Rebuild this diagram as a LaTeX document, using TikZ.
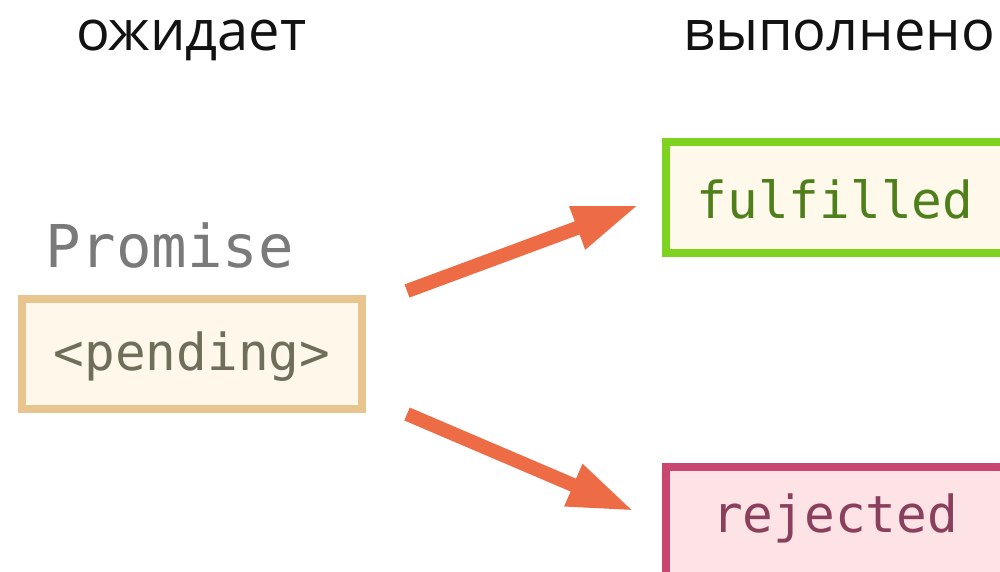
\documentclass[tikz,border=0pt]{standalone}
\usepackage{fontspec}
\setmainfont{Open Sans}
\setmonofont{DejaVu Sans Mono}
\usetikzlibrary{arrows.meta}
\definecolor{penddraw}{HTML}{E8C48E}
\definecolor{pendfill}{HTML}{FFF8EA}
\definecolor{pendtext}{HTML}{6E6E5A}
\definecolor{fulldraw}{HTML}{7ED321}
\definecolor{fullfill}{HTML}{FFF9EC}
\definecolor{fulltext}{HTML}{4F7F1A}
\definecolor{rejdraw}{HTML}{C94670}
\definecolor{rejfill}{HTML}{FDE2E6}
\definecolor{rejtext}{HTML}{8A3F5C}
\definecolor{arrowc}{HTML}{EE6C45}
\definecolor{promtext}{HTML}{7A7A7A}
\begin{document}
\begin{tikzpicture}[x=1pt,y=-1pt,
  title/.style={anchor=base west,inner sep=0pt,text=black!93,font=\fontsize{56}{66}\selectfont},
  statebox/.style={draw,line width=8pt,inner sep=0pt,text height=41pt,
    font=\ttfamily\fontsize{51}{60}\selectfont},
  arr/.style={draw=arrowc,line width=14pt,-{Triangle[length=66pt,width=42pt]}}]
\useasboundingbox (0,0) rectangle (1000,571);
\fill[white] (0,0) rectangle (1000,571);
\node[title] (t1) at (76,50) {ожидает};
\node[title] (t2) at (683,50) {выполнено};
\node[anchor=base west,inner sep=0pt,text=promtext,font=\ttfamily\fontsize{59}{68}\selectfont] (prom) at (45,267) {Promise};
\node[statebox,draw=penddraw,fill=pendfill,text=pendtext,minimum width=340pt,minimum height=110pt,text depth=9pt] (pend) at (192,354) {<pending>};
\node[statebox,draw=fulldraw,fill=fullfill,text=fulltext,minimum width=338pt,minimum height=111pt,text depth=0pt] (full) at (835,197.5) {fulfilled};
\node[statebox,draw=rejdraw,fill=rejfill,text=rejtext,minimum width=338pt,minimum height=110pt,text depth=21pt] (rej) at (835,522) {rejected};
\coordinate (a1) at (407,291);
\coordinate (b1) at (639,205);
\coordinate (a2) at (407,414);
\coordinate (b2) at (634,511);
\draw[arr] (a1) -- (b1);
\draw[arr] (a2) -- (b2);
\end{tikzpicture}
\end{document}
